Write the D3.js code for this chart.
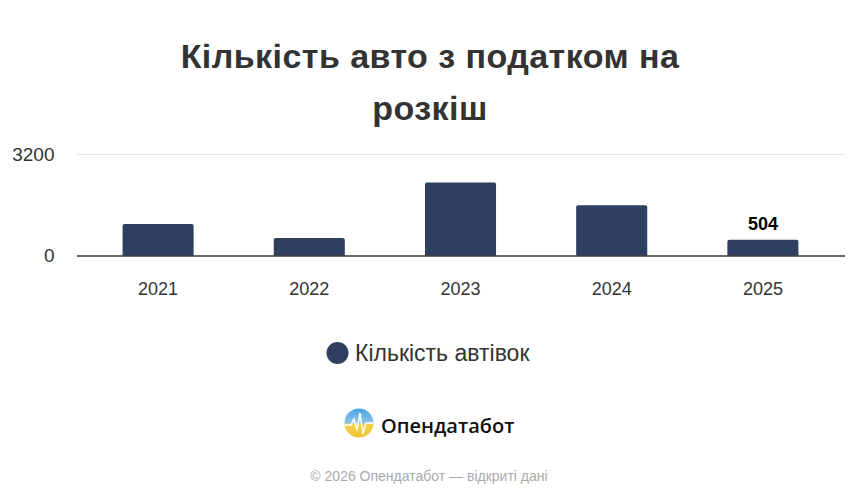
<!DOCTYPE html>
<html><head><meta charset="utf-8">
<script src="https://cdn.jsdelivr.net/npm/d3@7"></script>
<style>body{margin:0;background:#fff;} svg{display:block;font-family:"Liberation Sans",Arial,sans-serif;}</style>
</head><body>
<script>
const categories = ["2021","2022","2023","2024","2025"];
const values = [1000, 560, 2300, 1590, 504];
const yTicks = [0, 3200];
const seriesName = "Кількість автівок";
const titleLines = ["Кількість авто з податком на", "розкіш"];
const labelIndex = 4;

const W = 859, H = 502;
const svg = d3.select("body").append("svg").attr("width", W).attr("height", H);

svg.selectAll("text.title").data(titleLines).enter().append("text")
  .attr("x", 430).attr("y", (d,i)=>68 + i*52)
  .attr("text-anchor","middle").attr("font-size",34).attr("font-weight","bold").attr("fill","#333")
  .attr("letter-spacing","0.45px")
  .text(d=>d);

const x = d3.scaleBand().domain(categories).range([82.5, 838.5]).paddingInner(0.53).paddingOuter(0.265);
const y = d3.scaleLinear().domain([0, 3200]).range([255.7, 154]);

// gridlines
svg.selectAll("line.grid").data(yTicks.filter(d=>d>0)).enter().append("line")
  .attr("x1",77).attr("x2",845).attr("y1",d=>Math.round(y(d))+0.5).attr("y2",d=>Math.round(y(d))+0.5)
  .attr("stroke","#e6e6e6").attr("stroke-width",1);

svg.selectAll("text.ytick").data(yTicks).enter().append("text")
  .attr("x",54.5).attr("y",d=>y(d)+6.5).attr("text-anchor","end")
  .attr("font-size",19).attr("fill","#333").text(d=>d);

const bw = x.bandwidth();
svg.selectAll("path.bar").data(values).enter().append("path")
  .attr("fill","#2e3f5f")
  .attr("d",(d,i)=>{
    const x0 = x(categories[i]), x1 = x0+bw, y0 = y(0), y1 = y(d), r = 2;
    return `M${x0},${y0}V${y1+r}Q${x0},${y1} ${x0+r},${y1}H${x1-r}Q${x1},${y1} ${x1},${y1+r}V${y0}Z`;
  });

// baseline
svg.append("line").attr("x1",77).attr("x2",845).attr("y1",256).attr("y2",256)
  .attr("stroke","#333").attr("stroke-width",1.5);

svg.selectAll("text.xtick").data(categories).enter().append("text")
  .attr("x",d=>x(d)+bw/2).attr("y",294.5).attr("text-anchor","middle")
  .attr("font-size",18).attr("fill","#333").text(d=>d);

svg.append("text").attr("x",x(categories[labelIndex])+bw/2).attr("y",y(values[labelIndex])-10)
  .attr("text-anchor","middle").attr("font-size",18).attr("font-weight","bold").attr("fill","#000")
  .text(values[labelIndex]);

// legend
svg.append("circle").attr("cx",337.5).attr("cy",353).attr("r",11).attr("fill","#2e3f5f");
svg.append("text").attr("x",355).attr("y",361).attr("font-size",23).attr("fill","#333").text(seriesName);

// logo
const defs = svg.append("defs");
const g = defs.append("linearGradient").attr("id","lg").attr("x1",0).attr("y1",0).attr("x2",0).attr("y2",1);
g.append("stop").attr("offset","0%").attr("stop-color","#4aa3e8");
g.append("stop").attr("offset","50%").attr("stop-color","#8cc4e6");
g.append("stop").attr("offset","55%").attr("stop-color","#f4d34a");
g.append("stop").attr("offset","100%").attr("stop-color","#f2c230");
svg.append("circle").attr("cx",359).attr("cy",423).attr("r",14.5).attr("fill","url(#lg)");
svg.append("path").attr("d","M345,425 L351,425 L354,419 L357,430 L360,413 L363,434 L366,423 L373,423")
  .attr("fill","none").attr("stroke","#fff").attr("stroke-width",1.5);
svg.append("text").attr("x",381).attr("y",433).attr("font-family","'Open Sans',sans-serif")
  .attr("font-size",20).attr("font-weight",600).attr("fill","#111").text("Опендатабот");

svg.append("text").attr("x",429).attr("y",481).attr("text-anchor","middle")
  .attr("font-size",14).attr("fill","#aaa").text("© 2026 Опендатабот — відкриті дані");
</script>
</body></html>
